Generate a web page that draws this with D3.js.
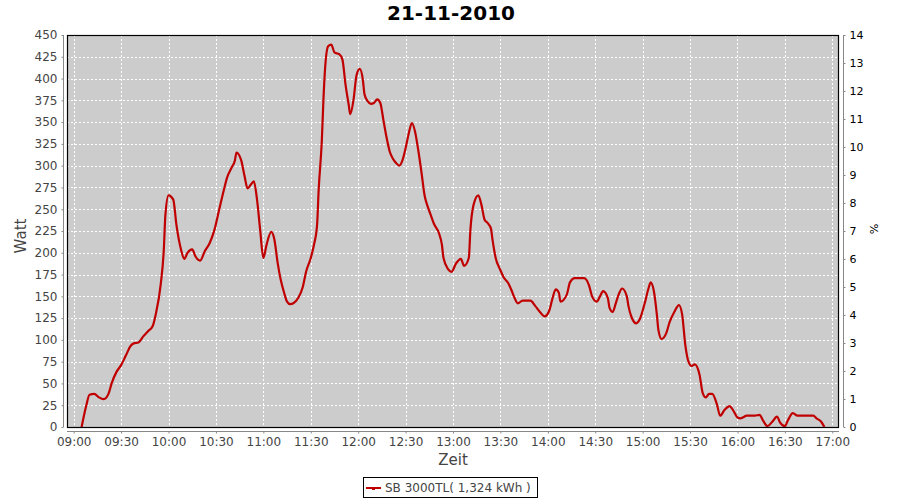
<!DOCTYPE html>
<html><head><meta charset="utf-8">
<script src="https://cdn.jsdelivr.net/npm/d3@7"></script>
<style>body{margin:0;background:#fff;} svg{display:block;font-family:"DejaVu Sans",sans-serif;}</style>
</head><body><svg id="c" width="900" height="500"></svg>
<script>
const title = "21-11-2010";
const seriesName = "SB 3000TL( 1,324 kWh )";
// minutes after 09:00
const minutes = [5,8,10,13,16,19,22,24,27,30,33,36,38,41,44,47,50,52,55,57,58,60,63,65,68,70,72,75,77,80,83,86,89,92,95,97,100,102,103,106,108,110,112,114,116,118,120,122,125,127,129,131,133,135,137,139,142,145,147,150,152,154,155,157,158,159,161,163,165,168,170,172,174,175,177,179,181,183,184,186,188,190,192,194,196,198,200,202,204,206,208,210,212,214,216,218,220,222,224,226,228,231,233,234,237,239,242,245,247,250,251,253,256,258,260,262,264,265,267,270,272,275,277,279,281,284,289,292,295,298,301,303,305,307,308,312,314,317,320,323,326,328,331,333,335,338,339,341,343,345,347,350,351,353,356,358,361,364,365,367,369,370,372,375,377,380,383,385,387,389,391,393,396,398,400,402,404,407,409,412,415,417,420,422,426,428,431,434,436,439,442,445,447,450,452,455,458,462,465,468,470,473,475];
const watts = [0,25,37,38,34,32,38,50,63,71,82,93,96,97,104,110,116,130,163,203,243,266,261,232,203,193,200,204,196,191,202,211,226,249,272,286,298,306,315,306,289,274,278,282,261,226,194,209,224,215,189,169,155,144,141,142,148,161,178,194,209,232,272,329,375,410,437,439,430,428,422,393,370,359,375,404,411,398,382,374,371,372,376,372,352,332,316,308,303,300,306,320,337,349,339,318,293,266,253,243,233,223,209,194,181,178,188,193,185,194,226,255,266,255,238,234,228,215,194,180,172,165,157,148,142,145,145,139,132,127,134,148,158,154,144,152,166,171,171,171,163,150,144,150,156,148,137,132,142,153,159,150,139,126,119,123,140,161,166,157,129,111,101,108,120,132,140,129,94,75,70,72,60,39,34,38,38,26,13,20,24,20,11,10,13,13,13,14,8,1,6,12,5,1,8,16,13,13,13,13,10,6,0];
const wattTicks = d3.range(0, 451, 25);
const pctTicks = d3.range(0, 15, 1);
const timeTickLabels = ["09:00","09:30","10:00","10:30","11:00","11:30","12:00","12:30","13:00","13:30","14:00","14:30","15:00","15:30","16:00","16:30","17:00"];

const base = new Date(2010, 10, 21, 9, 0, 0);
const toDate = m => new Date(base.getTime() + m * 60000);
const data = minutes.map((m, i) => ({t: toDate(m), v: watts[i]}));
const tickDates = timeTickLabels.map(s => { const [h, mm] = s.split(":").map(Number); return new Date(2010, 10, 21, h, mm, 0); });

const L = 67, R = 839, T = 35, B = 427;
const svg = d3.select("#c");
const x = d3.scaleTime().domain([toDate(-4.24), toDate(484.24)]).range([L, R]);
const y = d3.scaleLinear().domain([0, 450]).range([B, T]);
const y2 = d3.scaleLinear().domain([0, 14]).range([B, T]);

// title
svg.append("text").attr("x", 451).attr("y", 20).attr("text-anchor", "middle")
  .attr("font-size", 20).attr("font-weight", "bold").attr("fill", "#000").text(title);

// plot background
svg.append("rect").attr("x", L).attr("y", T).attr("width", R - L).attr("height", B - T).attr("fill", "#cccccc");

// grid
const grid = svg.append("g").attr("stroke", "#fff").attr("stroke-width", 1).attr("stroke-dasharray", "2,2");
grid.selectAll(".gy").data(wattTicks.filter(d => d > 0 && d < 450)).enter().append("line")
  .attr("x1", L).attr("x2", R).attr("y1", d => Math.round(y(d)) + 0.5).attr("y2", d => Math.round(y(d)) + 0.5);
grid.selectAll(".gx").data(tickDates).enter().append("line")
  .attr("y1", T).attr("y2", B).attr("x1", d => Math.round(x(d)) + 0.5).attr("x2", d => Math.round(x(d)) + 0.5);

// line
const line = d3.line().x(d => x(d.t)).y(d => y(d.v)).curve(d3.curveMonotoneX);
svg.append("path").datum(data).attr("d", line).attr("fill", "none").attr("stroke", "#c00000").attr("stroke-width", 2.2).attr("stroke-linejoin", "round");

// plot outline
svg.append("rect").attr("x", L + 0.5).attr("y", T + 0.5).attr("width", R - L - 1).attr("height", B - T).attr("fill", "none").attr("stroke", "#000").attr("stroke-width", 1.2);

// left axis
const ga = svg.append("g").attr("transform", `translate(63.5,0)`)
  .call(d3.axisLeft(y).tickValues(wattTicks).tickSize(2).tickPadding(4).tickSizeOuter(0));
ga.select(".domain").attr("stroke", "#888").attr("d", `M0,${T}V${B}`);
ga.selectAll(".tick line").attr("stroke", "#888");
ga.selectAll("text").attr("font-size", 12).attr("fill", "#444").attr("font-family", "DejaVu Sans");

// right axis
const gr = svg.append("g").attr("transform", `translate(843.5,0)`)
  .call(d3.axisRight(y2).tickValues(pctTicks).tickSize(2).tickPadding(4).tickSizeOuter(0).tickFormat(d3.format("d")));
gr.select(".domain").attr("stroke", "#888").attr("d", `M0,${T}V${B}`);
gr.selectAll(".tick line").attr("stroke", "#888");
gr.selectAll("text").attr("font-size", 11).attr("fill", "#000").attr("font-family", "DejaVu Sans");

// bottom axis
const gb = svg.append("g").attr("transform", `translate(0,431.5)`)
  .call(d3.axisBottom(x).tickValues(tickDates).tickFormat(d3.timeFormat("%H:%M")).tickSize(2).tickPadding(4).tickSizeOuter(0));
gb.select(".domain").attr("stroke", "#888").attr("d", `M${L},0H${R}`);
gb.selectAll(".tick line").attr("stroke", "#888");
gb.selectAll("text").attr("font-size", 12).attr("fill", "#444").attr("font-family", "DejaVu Sans");

// axis labels
svg.append("text").attr("transform", "translate(26,236) rotate(-90)").attr("text-anchor", "middle")
  .attr("font-size", 15).attr("fill", "#444").text("Watt");
svg.append("text").attr("x", 453).attr("y", 465).attr("text-anchor", "middle")
  .attr("font-size", 15).attr("fill", "#444").text("Zeit");
svg.append("text").attr("transform", "translate(870,229) rotate(90)").attr("text-anchor", "middle")
  .attr("font-size", 11).attr("fill", "#000").text("%");

// legend
const lg = svg.append("g");
lg.append("rect").attr("x", 363.5).attr("y", 477.5).attr("width", 174).attr("height", 20).attr("fill", "#fff").attr("stroke", "#000").attr("stroke-width", 1);
lg.append("line").attr("x1", 366).attr("x2", 381).attr("y1", 488).attr("y2", 488).attr("stroke", "#c00000").attr("stroke-width", 2);
lg.append("rect").attr("x", 372).attr("y", 487).attr("width", 3).attr("height", 3).attr("fill", "#c00000");
lg.append("text").attr("x", 385).attr("y", 492).attr("font-size", 12).attr("fill", "#444").text(seriesName);
</script></body></html>
